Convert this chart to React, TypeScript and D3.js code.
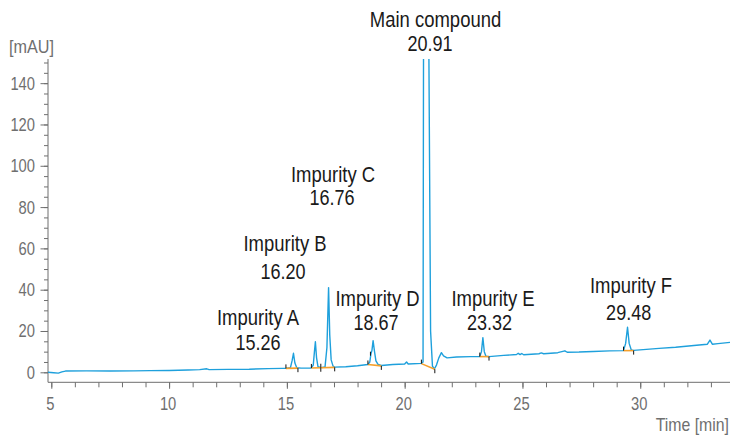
import React, { useEffect, useRef } from 'react';
import * as d3 from 'd3';

// chromatogram trace (time in min, absorbance in mAU)
const traceTime = [
  4.86, 5.1, 5.3, 5.45, 5.6, 6.5, 7.5, 8.5, 9.2, 10.0, 10.8, 11.3, 11.6, 11.7, 12.5, 13.4, 14.2, 14.8,
  14.96, 15.15, 15.22, 15.28, 15.34, 15.42, 15.6,
  16.04, 16.12, 16.17, 16.21, 16.26, 16.32, 16.44,
  16.62, 16.7, 16.77, 16.82, 16.88, 16.96, 17.03, 17.5, 18.0,
  18.44, 18.52, 18.57, 18.61, 18.66, 18.72, 18.78, 18.87, 19.01, 19.5, 20.0, 20.08, 20.15,
  20.71, 20.78, 20.915, 21.03, 21.1, 21.18, 21.26, 21.35, 21.45, 21.56, 21.65, 21.8, 22.2, 22.8,
  23.19, 23.26, 23.32, 23.38, 23.45, 23.58, 24.2, 24.75, 24.82, 24.9, 24.97, 25.05, 25.7, 25.8, 25.9,
  26.5, 26.8, 26.9, 27.4, 28.0, 28.7,
  29.29, 29.38, 29.46, 29.53, 29.62, 29.72, 30.8, 31.5, 32.5, 32.85, 32.96, 33.06, 33.3, 33.81,
];
const traceAbs = [
  0.0, -0.2, -0.4, 0.2, 0.6, 0.7, 0.6, 0.7, 0.8, 0.9, 1.1, 1.3, 1.7, 1.3, 1.4, 1.5, 1.8, 1.9,
  1.9, 2.2, 5.5, 9.2, 4.5, 2.2, 2.0,
  2.1, 3.5, 10, 14.8, 7, 2.8, 2.2,
  2.6, 12, 41, 18, 6, 3.0, 2.5, 2.7, 3.2,
  3.8, 5, 9, 10.5, 15.3, 10, 5.5, 3.8, 3.3, 3.8, 4.0, 5.0, 4.0,
  4.3, 5.0, 1000, 151, 20, 3, 1.6, 3.5, 7, 9.5, 8.0, 7.0, 7.4, 7.6,
  7.6, 10, 16.8, 10, 7.8, 7.6, 8.2, 8.6, 9.2, 8.6, 9.1, 8.5, 9.0, 9.4, 9.0,
  9.5, 10.4, 9.7, 9.8, 10.1, 10.4,
  10.5, 14, 21.8, 14, 10.8, 10.6, 11.6, 12.1, 13.2, 13.6, 15.6, 13.6, 13.9, 14.5,
];

// integrated peaks
const peakNames = ['Impurity A', 'Impurity B', 'Impurity C', 'Impurity D', 'Main compound', 'Impurity E', 'Impurity F'];
const peakTimes = ['15.26', '16.20', '16.76', '18.67', '20.91', '23.32', '29.48'];
const baseStart = [14.96, 16.04, 16.44, 18.44, 20.71, 23.19, 29.29];
const baseEnd = [15.47, 16.44, 17.03, 19.01, 21.28, 23.58, 29.72];
const baseStartAbs = [1.9, 2.1, 2.2, 3.8, 4.2, 7.6, 10.5];
const baseEndAbs = [2.0, 2.2, 2.4, 3.1, 1.5, 7.6, 10.5];

// extra marker on the shoulder of impurity D
const shoulderTime = [18.59];
const shoulderAbs = [9.0];

const yMajor = [0, 20, 40, 60, 80, 100, 120, 140];
const xMajor = [5, 10, 15, 20, 25, 30];

// label centre x, baseline of name line, baseline of value line, centre x of value line
const labelLayout = [
  [258, 324.5, 349.5, 258],
  [285, 251, 279, 283],
  [333, 182, 204.5, 332],
  [377.5, 305.5, 329.5, 376],
  [435.5, 27, 51, 430],
  [493, 305.5, 330, 489.5],
  [631, 293, 319.5, 628.7],
];

const W = 731;
const H = 435;
const FONT = "'Liberation Sans', Arial, sans-serif";
const SQUEEZE = 0.82; // narrow look of the original typeface
const GREY = '#6f6f6f';
const BLUE = '#1ea0dc';
const ORANGE = '#f5a02c';

type Sel = d3.Selection<SVGGElement | SVGSVGElement, unknown, null, undefined>;

// text squeezed horizontally around its anchor
function narrowText(parent: Sel, x: number, y: number, str: string, size: number, fill: string, anchor: string, sx = SQUEEZE) {
  parent.append('g')
    .attr('transform', `translate(${x},${y}) scale(${sx},1)`)
    .append('text')
    .attr('text-anchor', anchor)
    .style('font-family', FONT)
    .style('font-size', `${size}px`)
    .style('fill', fill)
    .text(str);
}

export default function App() {
  const svgRef = useRef<SVGSVGElement>(null);

  useEffect(() => {
    if (!svgRef.current) return;
    const svg = d3.select(svgRef.current) as unknown as Sel;
    svg.selectAll('*').remove();

    const x = d3.scaleLinear().domain([4.86, 33.81]).range([48, 730]);
    const y = d3.scaleLinear().domain([-4.84, 151.7]).range([382.3, 59]);

    svg.append('defs').append('clipPath').attr('id', 'plot-clip')
      .append('rect')
      .attr('x', 48).attr('y', 59)
      .attr('width', 682).attr('height', 382.3 - 59);

    // y axis
    const yAx = svg.append('g').attr('transform', 'translate(48,0)') as unknown as Sel;
    yAx.call(d3.axisLeft(y).tickValues(d3.range(0, 151, 5)).tickSize(4).tickFormat(() => '') as any);
    yAx.selectAll('.tick line').attr('stroke', GREY);
    yAx.select('.domain').remove();
    yAx.append('line').attr('x1', 0).attr('x2', 0).attr('y1', 59).attr('y2', 382.3).attr('stroke', GREY);
    yAx.selectAll('.major').data(yMajor).enter().append('line')
      .attr('x1', -7.5).attr('x2', 0)
      .attr('y1', d => y(d) + 0.5).attr('y2', d => y(d) + 0.5)
      .attr('stroke', GREY);
    yMajor.forEach(v => narrowText(yAx, -13, y(v) + 6.5, String(v), 18, GREY, 'end'));

    // x axis
    const xAx = svg.append('g').attr('transform', 'translate(0,382.3)') as unknown as Sel;
    xAx.call(d3.axisBottom(x).tickValues(d3.range(5, 34, 1)).tickSize(5).tickFormat(() => '') as any);
    xAx.selectAll('.tick line').attr('stroke', GREY);
    xAx.select('.domain').remove();
    xAx.append('line').attr('x1', 48).attr('x2', 730).attr('y1', 0).attr('y2', 0).attr('stroke', GREY);
    xAx.selectAll('.major').data(xMajor).enter().append('line')
      .attr('x1', d => x(d) + 0.5).attr('x2', d => x(d) + 0.5)
      .attr('y1', 0).attr('y2', 6.5)
      .attr('stroke', GREY);
    xMajor.forEach(v => narrowText(xAx, x(v) - 1, 28, String(v), 18, GREY, 'middle'));

    // axis titles
    narrowText(svg, 9, 52.5, '[mAU]', 18, GREY, 'start', 0.9);
    narrowText(svg, 729, 431, 'Time [min]', 18, GREY, 'end', 0.88);

    // trace
    const pts = traceTime.map((t, i) => [t, traceAbs[i]] as [number, number]);
    const line = d3.line<[number, number]>().x(d => x(d[0])).y(d => y(d[1]));
    svg.append('path')
      .datum(pts)
      .attr('clip-path', 'url(#plot-clip)')
      .attr('d', line)
      .attr('fill', 'none')
      .attr('stroke', BLUE)
      .attr('stroke-width', 1.4)
      .attr('stroke-linejoin', 'round');

    // integration baselines and start/end marks
    peakNames.forEach((_, i) => {
      svg.append('line')
        .attr('x1', x(baseStart[i])).attr('y1', y(baseStartAbs[i]))
        .attr('x2', x(baseEnd[i])).attr('y2', y(baseEndAbs[i]))
        .attr('stroke', ORANGE).attr('stroke-width', 1.6);
      svg.append('line')
        .attr('x1', x(baseStart[i])).attr('x2', x(baseStart[i]))
        .attr('y1', y(baseStartAbs[i]) - 4).attr('y2', y(baseStartAbs[i]))
        .attr('stroke', '#111').attr('stroke-width', 1);
      svg.append('line')
        .attr('x1', x(baseEnd[i])).attr('x2', x(baseEnd[i]))
        .attr('y1', y(baseEndAbs[i])).attr('y2', y(baseEndAbs[i]) + 4)
        .attr('stroke', '#111').attr('stroke-width', 1);
    });
    shoulderTime.forEach((t, i) => {
      svg.append('line')
        .attr('x1', x(t) - 1).attr('x2', x(t) - 1)
        .attr('y1', y(shoulderAbs[i]) - 2).attr('y2', y(shoulderAbs[i]) + 2)
        .attr('stroke', '#111').attr('stroke-width', 1);
    });

    // peak labels
    peakNames.forEach((name, i) => {
      const [cx, yName, yVal, cxVal] = labelLayout[i];
      narrowText(svg, cx, yName, name, 21.5, '#1a1a1a', 'middle', 0.86);
      narrowText(svg, cxVal, yVal, peakTimes[i], 21.5, '#1a1a1a', 'middle', 0.84);
    });
  }, []);

  return (
    <svg
      ref={svgRef}
      width={W}
      height={H}
      style={{ position: 'absolute', left: 0, top: 0, background: '#fff' }}
    />
  );
}
